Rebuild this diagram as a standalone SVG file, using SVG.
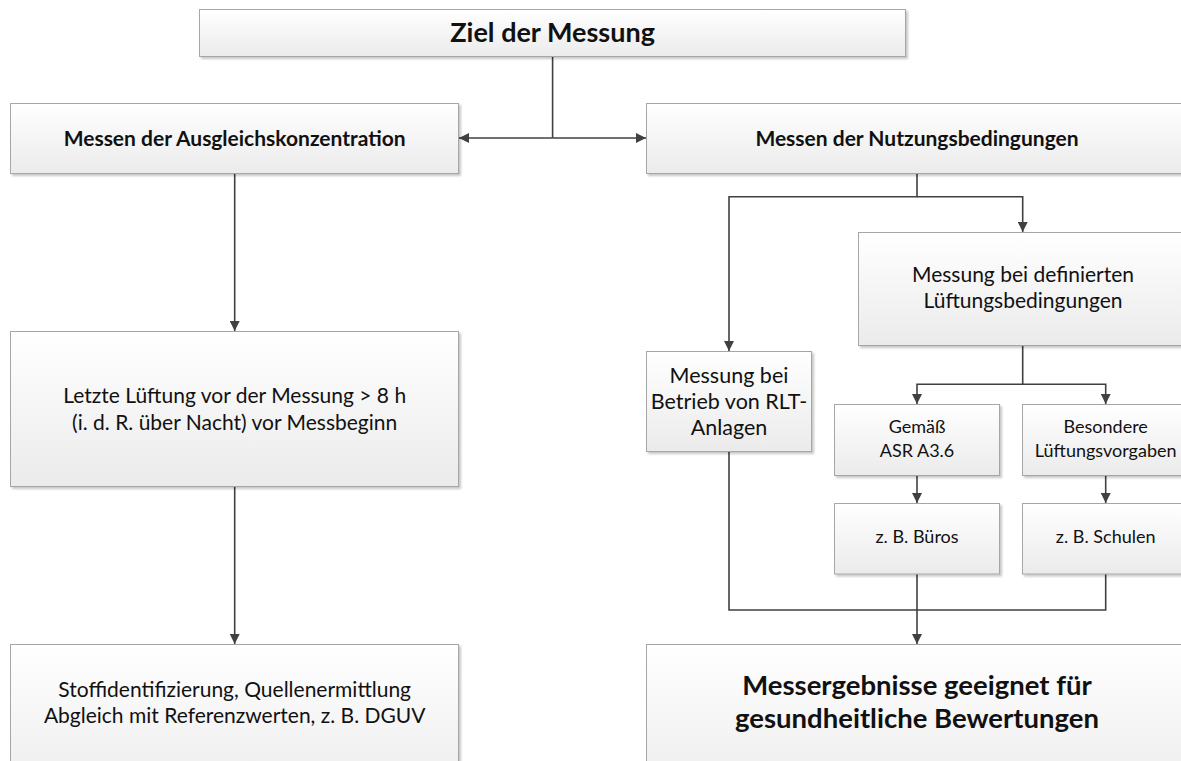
<svg xmlns="http://www.w3.org/2000/svg" width="1181" height="761" viewBox="0 0 1181 761">
<defs>
<linearGradient id="g" x1="0" y1="0" x2="0" y2="1">
<stop offset="0" stop-color="#ffffff"/>
<stop offset="1" stop-color="#ebebeb"/>
</linearGradient>
<filter id="sh" x="-5%" y="-5%" width="110%" height="120%">
<feDropShadow dx="2" dy="2" stdDeviation="1.2" flood-color="#000" flood-opacity="0.22"/>
</filter>
<marker id="ah" markerUnits="userSpaceOnUse" markerWidth="11" markerHeight="10" refX="10" refY="5" orient="auto">
<path d="M0,0 L10,5 L0,10 z" fill="#404040"/>
</marker>
<style>
.box{fill:url(#g);stroke:#a6a6a6;stroke-width:1;filter:url(#sh)}
.t{font-family:Lato,"Liberation Sans",sans-serif;fill:#111;text-anchor:middle}
.b{font-weight:bold}
.c{fill:none;stroke:#404040;stroke-width:1.6}
.a{marker-end:url(#ah)}
</style>
</defs>
<rect width="1181" height="761" fill="#fff"/>
<g id="connectors">
<path class="c" d="M552.6,56.5 V138"/>
<path class="c a" d="M552.6,138 H459"/>
<path class="c a" d="M552.6,138 H646"/>
<path class="c a" d="M234.7,173.5 V331"/>
<path class="c a" d="M234.7,486.5 V644"/>
<path class="c a" d="M917,173.5 V196.7 H729 V351"/>
<path class="c a" d="M917,196.7 H1022.7 V232"/>
<path class="c a" d="M1022.7,345.5 V384.3 H917 V404"/>
<path class="c a" d="M1022.7,384.3 H1105.7 V404"/>
<path class="c a" d="M917,475.5 V503"/>
<path class="c a" d="M1105.7,475.5 V503"/>
<path class="c" d="M729,451.5 V610 H1105.7 V574"/>
<path class="c a" d="M917,574 V644"/>
</g>
<g id="n-ziel"><rect class="box" x="199.5" y="9.5" width="706" height="47"/><text class="t b" x="552.6" y="42" font-size="27">Ziel der Messung</text></g>
<g id="n-ausgleich"><rect class="box" x="10.5" y="103.5" width="448" height="70"/><text class="t b" x="234.7" y="145.5" font-size="21">Messen der Ausgleichskonzentration</text></g>
<g id="n-nutzung"><rect class="box" x="646.5" y="103.5" width="542" height="70"/><text class="t b" x="917" y="145.5" font-size="21">Messen der Nutzungsbedingungen</text></g>
<g id="n-letzte"><rect class="box" x="10.5" y="331.5" width="448" height="155"/><text class="t" font-size="21"><tspan x="234.7" y="403">Letzte Lüftung vor der Messung &gt; 8 h</tspan><tspan x="234.7" y="430">(i. d. R. über Nacht) vor Messbeginn</tspan></text></g>
<g id="n-stoff"><rect class="box" x="10.5" y="644.5" width="448" height="160"/><text class="t" font-size="21"><tspan x="234.7" y="697">Stoffidentifizierung, Quellenermittlung</tspan><tspan x="234.7" y="723">Abgleich mit Referenzwerten, z. B. DGUV</tspan></text></g>
<g id="n-definiert"><rect class="box" x="858.5" y="232.5" width="330" height="113"/><text class="t" font-size="21"><tspan x="1023" y="281.5">Messung bei definierten</tspan><tspan x="1023" y="308">Lüftungsbedingungen</tspan></text></g>
<g id="n-betrieb"><rect class="box" x="646.5" y="351.5" width="165" height="100"/><text class="t" font-size="21.5"><tspan x="729" y="382.5">Messung bei</tspan><tspan x="729" y="408.5">Betrieb von RLT-</tspan><tspan x="729" y="434.5">Anlagen</tspan></text></g>
<g id="n-gemaess"><rect class="box" x="834.5" y="404.5" width="165" height="71"/><text class="t" font-size="18"><tspan x="917" y="433">Gemäß</tspan><tspan x="917" y="456.5">ASR A3.6</tspan></text></g>
<g id="n-besondere"><rect class="box" x="1022.5" y="404.5" width="166" height="71"/><text class="t" font-size="18"><tspan x="1105.7" y="433">Besondere</tspan><tspan x="1105.7" y="456.5">Lüftungsvorgaben</tspan></text></g>
<g id="n-bueros"><rect class="box" x="834.5" y="503.5" width="165" height="70.5"/><text class="t" x="917" y="543" font-size="18">z. B. Büros</text></g>
<g id="n-schulen"><rect class="box" x="1022.5" y="503.5" width="166" height="70.5"/><text class="t" x="1105.7" y="543" font-size="18">z. B. Schulen</text></g>
<g id="n-ergebnis"><rect class="box" x="646.5" y="644.5" width="542" height="160"/><text class="t b" font-size="27.5"><tspan x="917" y="695">Messergebnisse geeignet für</tspan><tspan x="917" y="728">gesundheitliche Bewertungen</tspan></text></g>
</svg>
